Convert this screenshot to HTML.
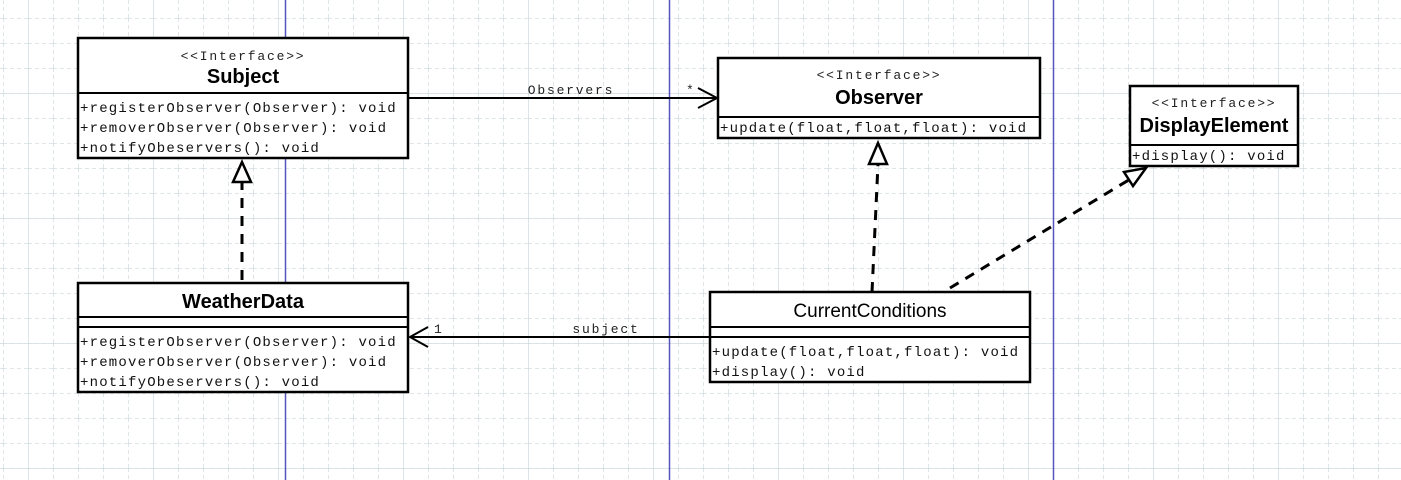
<!DOCTYPE html>
<html><head><meta charset="utf-8"><style>
html,body{margin:0;padding:0;background:#fff;}
svg{display:block;}
.mono{font-family:"Liberation Mono",monospace;font-size:14px;letter-spacing:1.2px;fill:#111;}
.st{font-family:"Liberation Mono",monospace;font-size:13px;letter-spacing:1.8px;fill:#222;}
.ttl{font-family:"Liberation Sans",sans-serif;font-size:20px;font-weight:bold;fill:#000;}
</style></head><body>
<svg width="1401" height="480" xmlns="http://www.w3.org/2000/svg">
<defs>
<pattern id="g" x="3" y="-7" width="25" height="25" patternUnits="userSpaceOnUse">
<path d="M0 0V25M0 0H25" stroke="#c9d6da" stroke-width="1.2" stroke-dasharray="4 3" fill="none"/>
</pattern>
<pattern id="G" x="28" y="-32" width="125" height="125" patternUnits="userSpaceOnUse">
<path d="M0 0V125M0 0H125" stroke="#c9d6da" stroke-width="1.2" fill="none"/>
</pattern>
</defs>
<rect width="1401" height="480" fill="url(#g)"/>
<rect width="1401" height="480" fill="url(#G)"/>
<g stroke="#5555bb" stroke-width="1.5"><line x1="285.5" y1="0" x2="285.5" y2="480"/><line x1="669.5" y1="0" x2="669.5" y2="480"/><line x1="1053.5" y1="0" x2="1053.5" y2="480"/></g>

<!-- Subject -->
<rect x="78" y="38" width="330" height="120" fill="#fff" stroke="#000" stroke-width="2.5"/>
<line x1="78" y1="93" x2="408" y2="93" stroke="#000" stroke-width="2"/>
<text x="243" y="60" class="st" text-anchor="middle">&lt;&lt;Interface&gt;&gt;</text>
<text x="243" y="83" class="ttl" text-anchor="middle">Subject</text>
<text x="80" y="112" class="mono">+registerObserver(Observer): void</text>
<text x="80" y="132" class="mono">+removerObserver(Observer): void</text>
<text x="80" y="152" class="mono">+notifyObeservers(): void</text>

<!-- Observer -->
<rect x="718" y="58" width="322" height="80" fill="#fff" stroke="#000" stroke-width="2.5"/>
<line x1="718" y1="117" x2="1040" y2="117" stroke="#000" stroke-width="2"/>
<text x="879" y="79" class="st" text-anchor="middle">&lt;&lt;Interface&gt;&gt;</text>
<text x="879" y="104" class="ttl" text-anchor="middle">Observer</text>
<text x="720" y="132" class="mono">+update(float,float,float): void</text>

<!-- DisplayElement -->
<rect x="1130" y="86" width="168" height="80" fill="#fff" stroke="#000" stroke-width="2.5"/>
<line x1="1130" y1="145" x2="1298" y2="145" stroke="#000" stroke-width="2"/>
<text x="1214" y="107" class="st" text-anchor="middle">&lt;&lt;Interface&gt;&gt;</text>
<text x="1214" y="132" class="ttl" text-anchor="middle">DisplayElement</text>
<text x="1132" y="160" class="mono">+display(): void</text>

<!-- WeatherData -->
<rect x="78" y="283" width="330" height="109" fill="#fff" stroke="#000" stroke-width="2.5"/>
<line x1="78" y1="317" x2="408" y2="317" stroke="#000" stroke-width="2"/>
<line x1="78" y1="327" x2="408" y2="327" stroke="#000" stroke-width="2"/>
<text x="243" y="308" class="ttl" text-anchor="middle">WeatherData</text>
<text x="80" y="346" class="mono">+registerObserver(Observer): void</text>
<text x="80" y="366" class="mono">+removerObserver(Observer): void</text>
<text x="80" y="386" class="mono">+notifyObeservers(): void</text>

<!-- CurrentConditions -->
<rect x="710" y="292" width="320" height="90" fill="#fff" stroke="#000" stroke-width="2.5"/>
<line x1="710" y1="327" x2="1030" y2="327" stroke="#000" stroke-width="2"/>
<line x1="710" y1="337" x2="1030" y2="337" stroke="#000" stroke-width="2"/>
<text x="870" y="317" font-family="Liberation Sans,sans-serif" font-size="19" text-anchor="middle" fill="#000">CurrentConditions</text>
<text x="712" y="356" class="mono">+update(float,float,float): void</text>
<text x="712" y="376" class="mono">+display(): void</text>

<!-- Observers association -->
<line x1="408" y1="98" x2="716" y2="98" stroke="#000" stroke-width="2"/>
<polyline points="698,88 717,98 698,108" fill="none" stroke="#000" stroke-width="2"/>
<text x="571" y="94" class="st" text-anchor="middle">Observers</text>
<text x="686" y="94" class="st">*</text>

<!-- subject association -->
<line x1="710" y1="337" x2="410" y2="337" stroke="#000" stroke-width="2"/>
<polyline points="428,327 410,337 428,347" fill="none" stroke="#000" stroke-width="2"/>
<text x="606" y="333" class="st" text-anchor="middle">subject</text>
<text x="434" y="333" class="st">1</text>

<!-- realizations -->
<g stroke="#000" stroke-width="3" stroke-dasharray="10 8" fill="none">
<line x1="242" y1="280" x2="242" y2="182"/>
<line x1="872" y1="292" x2="878" y2="164"/>
<line x1="950" y1="288" x2="1132" y2="178"/>
</g>
<g fill="#fff" stroke="#000" stroke-width="2.5">
<polygon points="242,162 233,182 251,182"/>
<polygon points="878,143 869,164 887,164"/>
<polygon points="1146,168 1124,172 1133,186"/>
</g>
</svg>
</body></html>
